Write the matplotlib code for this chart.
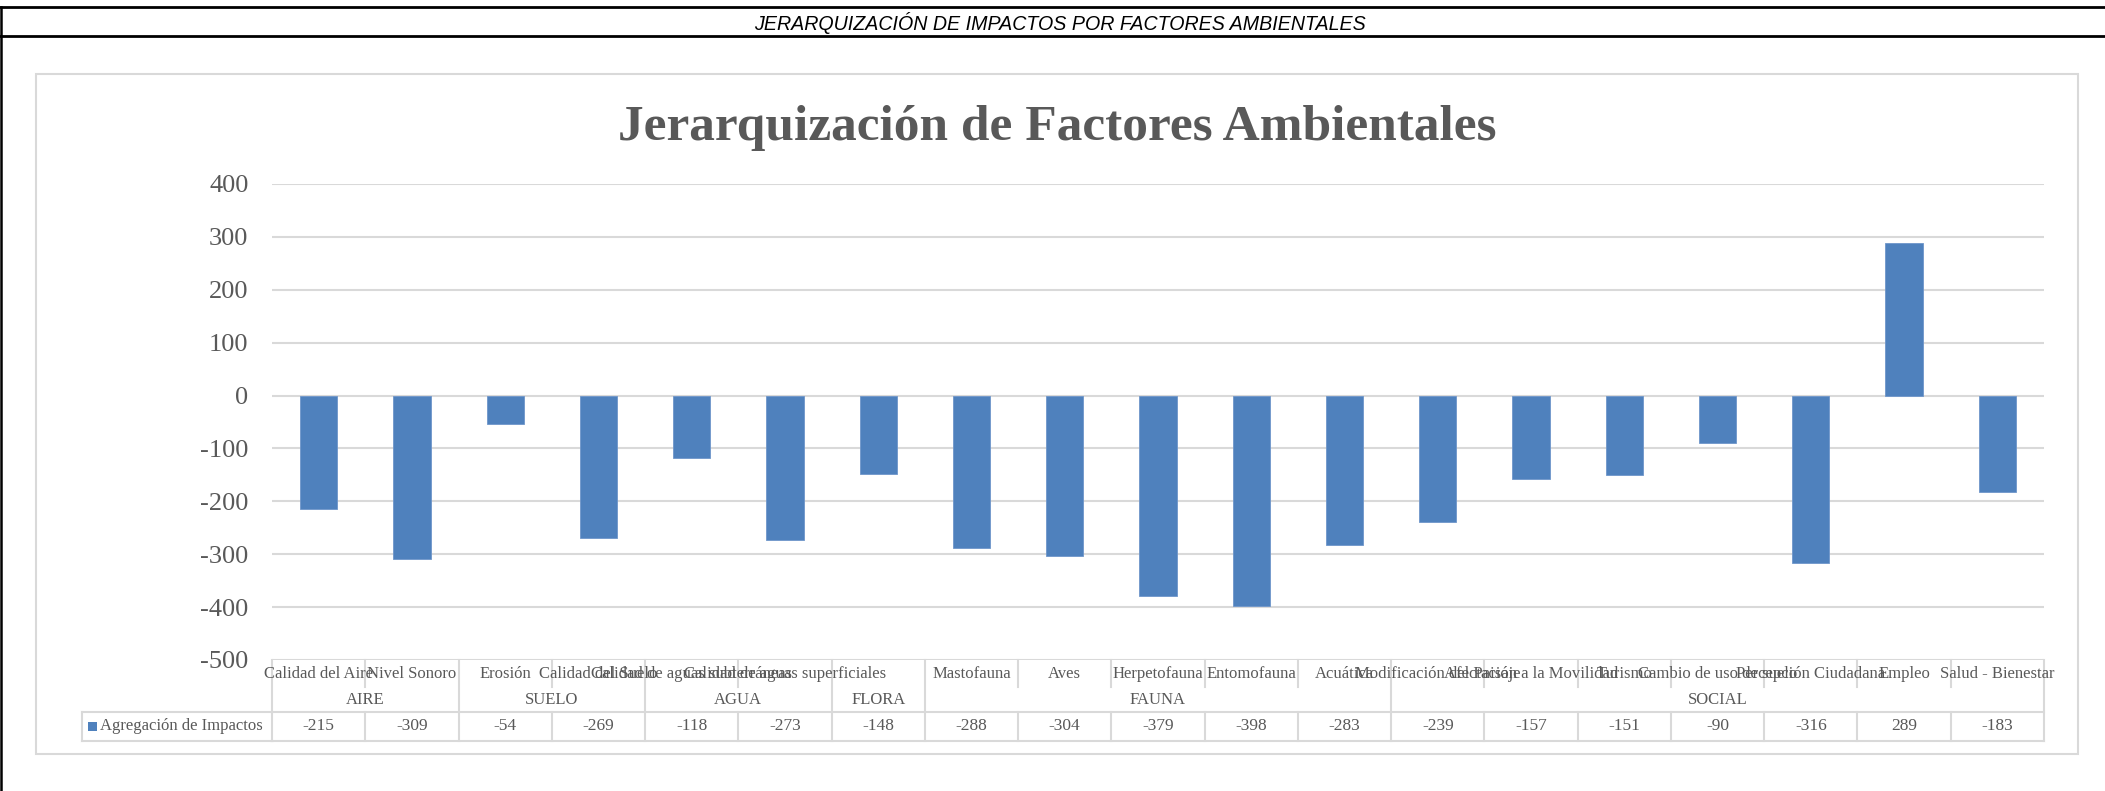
import matplotlib
matplotlib.use("Agg")
import matplotlib.pyplot as plt
from matplotlib.transforms import blended_transform_factory
from matplotlib.lines import Line2D
from matplotlib.patches import Rectangle

# ---------------- data ----------------
categories = ["Calidad del Aire", "Nivel Sonoro", "Erosión", "Calidad del Suelo",
              "Calidad de aguas subterráneas", "Calidad de aguas superficiales", "",
              "Mastofauna", "Aves", "Herpetofauna", "Entomofauna", "Acuática",
              "Modificación del Paisaje", "Afectación a la Movilidad", "Turismo",
              "Cambio de uso de suelo", "Percepción Ciudadana", "Empleo", "Salud - Bienestar"]
groups = ["AIRE", "SUELO", "AGUA", "FLORA", "FAUNA", "SOCIAL"]
group_sizes = [2, 2, 2, 1, 5, 7]
values = [-215, -309, -54, -269, -118, -273, -148, -288, -304, -379, -398, -283,
          -239, -157, -151, -90, -316, 289, -183]
series_name = "Agregación de Impactos"
yticks = [-500, -400, -300, -200, -100, 0, 100, 200, 300, 400]
title = "Jerarquización de Factores Ambientales"
header = "JERARQUIZACIÓN DE IMPACTOS POR FACTORES AMBIENTALES"

# ---------------- style ----------------
plt.rcParams['font.family'] = ['Liberation Serif', 'DejaVu Serif']
BAR = '#4F81BD'
TXT = '#595959'
GRID = '#D9D9D9'

W, H = 2105, 791
fig = plt.figure(figsize=(W / 100, H / 100), dpi=100)
fig.patch.set_facecolor('white')

def fx(px):
    return px / W

def fy(py):
    return 1 - py / H

ax_left, ax_right, ax_top, ax_bot = 272, 2044, 184, 660
ax = fig.add_axes([fx(ax_left), fy(ax_bot), (ax_right - ax_left) / W, (ax_bot - ax_top) / H])

n = len(values)
xs = list(range(n))
ax.bar(xs, values, width=0.4, color=BAR, edgecolor='#6F96CA', linewidth=0.6, zorder=3)
ax.set_xlim(-0.5, n - 0.5)
ax.set_ylim(yticks[0], yticks[-1])
ax.set_yticks(yticks)
ax.set_yticklabels([str(t) for t in yticks])
ax.yaxis.grid(True, color=GRID, linewidth=1.5, zorder=0)
ax.set_axisbelow(True)
ax.set_xticks([])
for s in ax.spines.values():
    s.set_visible(False)
ax.tick_params(axis='y', length=0, pad=17, labelsize=19, labelcolor=TXT)
ax.set_facecolor('none')

# ---------------- data table under the axis ----------------
trans = blended_transform_factory(ax.transData, fig.transFigure)
y_top, y_grp, y_data, y_bot = 660, 687, 712, 741
lc = dict(color=GRID, linewidth=1.5, clip_on=False)

# boundaries
group_edges = [0]
for g in group_sizes:
    group_edges.append(group_edges[-1] + g)
for k in range(n + 1):
    xb = k - 0.5
    if k in group_edges:
        fig.add_artist(Line2D([xb, xb], [fy(y_top), fy(y_bot)], transform=trans, **lc))
    else:
        fig.add_artist(Line2D([xb, xb], [fy(y_top), fy(y_grp)], transform=trans, **lc))
        fig.add_artist(Line2D([xb, xb], [fy(y_data), fy(y_bot)], transform=trans, **lc))

# horizontal lines
for yy in (y_data, y_bot):
    fig.add_artist(Line2D([-0.5, n - 0.5], [fy(yy), fy(yy)], transform=trans, **lc))
    fig.add_artist(Line2D([fx(82), fx(ax_left)], [fy(yy), fy(yy)], transform=fig.transFigure, **lc))
fig.add_artist(Line2D([fx(82), fx(82)], [fy(y_data), fy(y_bot)], transform=fig.transFigure, **lc))

# category labels
for i, c in enumerate(categories):
    fig.text(i, fy(674), c, transform=trans, ha='center', va='center', fontsize=12, color=TXT)
# group labels
for gi, g in enumerate(groups):
    center = (group_edges[gi] + group_edges[gi + 1] - 1) / 2
    fig.text(center, fy(700), g, transform=trans, ha='center', va='center', fontsize=12, color=TXT)
# values
for i, v in enumerate(values):
    fig.text(i, fy(726.5), str(v), transform=trans, ha='center', va='center', fontsize=12.5, color=TXT)

# legend key
fig.add_artist(Rectangle((fx(88), fy(731)), 9 / W, 9 / H, facecolor=BAR, edgecolor='none',
                         transform=fig.transFigure))
fig.text(fx(100), fy(726.5), series_name, ha='left', va='center', fontsize=12, color=TXT)

# ---------------- chart frame, title ----------------
fig.add_artist(Rectangle((fx(36), fy(754)), (2078 - 36) / W, (754 - 74) / H, fill=False,
                         edgecolor=GRID, linewidth=1.5, transform=fig.transFigure))
fig.text(fx(1057), fy(140), title, ha='center', va='baseline', fontsize=37,
         fontweight='bold', color=TXT)

# ---------------- sheet header ----------------
fig.add_artist(Line2D([0, 1], [fy(6.5), fy(6.5)], color='black', linewidth=2.0,
                      transform=fig.transFigure))
fig.add_artist(Line2D([0, 1], [fy(36), fy(36)], color='black', linewidth=2.0,
                      transform=fig.transFigure))
fig.add_artist(Line2D([fx(1.2), fx(1.2)], [fy(6.5), 0], color='black', linewidth=1.8,
                      transform=fig.transFigure))
fig.text(fx(1060), fy(29.5), header, ha='center', va='baseline', fontsize=14.1,
         style='italic', family=['Liberation Sans', 'DejaVu Sans'], color='black')

fig.savefig('out.png', dpi=100, facecolor='white')
